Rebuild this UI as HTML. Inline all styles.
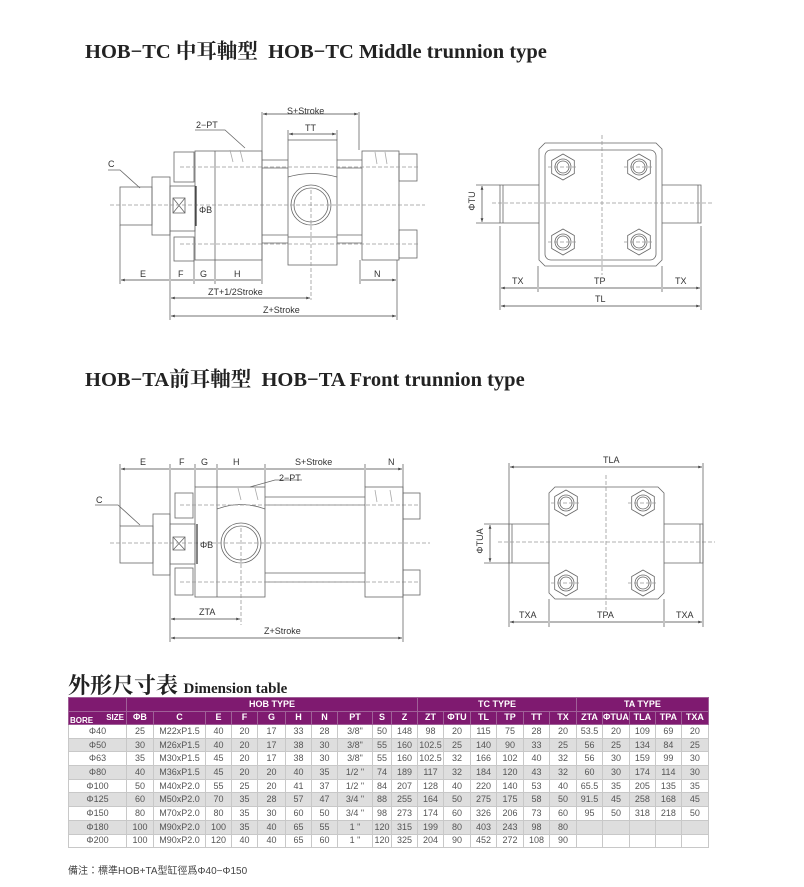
<!DOCTYPE html>
<html><head><meta charset="utf-8"><style>
body{margin:0;background:#fff;width:804px;height:887px;position:relative;overflow:hidden;font-family:"Liberation Sans",sans-serif}
.h{position:absolute;font-family:"Liberation Serif","Noto Serif CJK SC",serif;font-weight:bold;color:#222;white-space:nowrap}
table{position:absolute;left:68px;top:697px;border-collapse:collapse;table-layout:fixed;font-size:9px;color:#555}
td{text-align:center;padding:0;height:12.7px;border:1px solid #c8c8c8;line-height:11px;white-space:nowrap;overflow:hidden}
tr.g td{background:#dedede}
tr.p td{background:#7f1a70;color:#fff;font-weight:bold;border-color:#a06098;height:12.5px}
svg text{font-family:"Liberation Sans",sans-serif;font-size:9px;fill:#333}
</style></head><body>
<div class="h" style="left:85px;top:34px;font-size:20.5px">HOB−TC 中耳軸型 &nbsp;HOB−TC Middle trunnion type</div>
<div class="h" style="left:85px;top:362px;font-size:20.5px">HOB−TA前耳軸型 &nbsp;HOB−TA Front trunnion type</div>
<div class="h" style="left:68px;top:669px;font-size:22px">外形尺寸表 <span style="font-size:15px">Dimension table</span></div>
<div style="position:absolute;left:68px;top:862px;font-size:10px;color:#444;font-family:'Liberation Sans','Noto Sans CJK TC',sans-serif">備注：標準HOB+TA型缸徑爲Φ40−Φ150</div>
<svg width="804" height="887" style="position:absolute;left:0;top:0">
<defs><marker id="a" viewBox="0 0 8 6" refX="8" refY="3" markerWidth="6" markerHeight="4" orient="auto-start-reverse"><path d="M0 0L8 3L0 6z" fill="#444"/></marker></defs>
<g stroke="#666" stroke-width="0.8" fill="none">
<!-- TC side -->
<rect x="120" y="187" width="32" height="38"/>
<rect x="152" y="177" width="18" height="58"/>
<rect x="170" y="186" width="25" height="45"/>
<rect x="173" y="198" width="12" height="15"/><path d="M173 198L185 213M185 198L173 213"/>
<rect x="174" y="152" width="20" height="30"/><rect x="174" y="237" width="20" height="24"/>
<rect x="195" y="151" width="67" height="109"/><path d="M215 151V260"/>
<path d="M262 160H288M262 168H288M262 235H288M262 243H288M337 160H362M337 168H362M337 235H362M337 243H362"/>
<rect x="288" y="140" width="49" height="125"/><path d="M288 237H337M288 177Q312 170 337 177"/>
<circle cx="311" cy="205" r="20"/><circle cx="311" cy="205" r="17"/>
<rect x="362" y="151" width="37" height="109"/>
<rect x="399" y="154" width="18" height="27"/><rect x="399" y="230" width="18" height="28"/>
<path d="M230 150l3 12M240 150l3 12M375 152l2 12M385 152l2 12" stroke="#aaa"/>
<path d="M110 205H425M180 167H420M180 244H420M311 190V300" stroke="#999" stroke-dasharray="4 2"/>
<path d="M196 186V226" stroke="#333" stroke-width="1.2"/>
<path d="M120 225V284M170 231V320M194 260V284M215 260V284M262 112V284M359 112V150M360 260V284M397 260V320M288 130V140M337 130V140"/>
<path d="M140 188L120 170H108M245 148L225 130H195"/>
</g>
<g stroke="#444" stroke-width="0.7" marker-start="url(#a)" marker-end="url(#a)">
<path d="M263 114H358"/><path d="M289 134H336"/>
<path d="M121 280H169M171 280H193M195 280H214M216 280H261M361 280H396"/>
<path d="M171 298H310"/><path d="M171 316H396"/>
</g>
<text x="287" y="114">S+Stroke</text><text x="305" y="131">TT</text><text x="196" y="128">2−PT</text><text x="108" y="167">C</text>
<text x="199" y="213">ΦB</text>
<text x="140" y="277">E</text><text x="178" y="277">F</text><text x="200" y="277">G</text><text x="234" y="277">H</text><text x="374" y="277">N</text>
<text x="208" y="295">ZT+1/2Stroke</text><text x="263" y="313">Z+Stroke</text>
<!-- TC end -->
<g stroke="#666" stroke-width="0.8" fill="none">
<path d="M545 143H656L662 149V260L656 266H545L539 260V149z"/>
<rect x="545" y="150" width="111" height="110" rx="6"/>
<path d="M539 185H500V223H539M662 185H701V223H662M503 185V223M698 185V223"/>
<g id="n"><path d="M563 154l11.3 6.5v13l-11.3 6.5l-11.3-6.5v-13z"/><circle cx="563" cy="167" r="8"/><circle cx="563" cy="167" r="6"/></g>
<use href="#n" x="76"/><use href="#n" y="75"/><use href="#n" x="76" y="75"/>
<path d="M492 203H712M602 135V275M548 167H578M624 167H654M548 242H578M624 242H654" stroke="#999" stroke-dasharray="4 2"/>
<path d="M476 185H500M476 223H500M500 226V310M538 266V292M662 266V292M701 226V310"/>
</g>
<g stroke="#444" stroke-width="0.7" marker-start="url(#a)" marker-end="url(#a)">
<path d="M482 186V222"/><path d="M501 288H537M539 288H661M663 288H700"/><path d="M501 306H700"/>
</g>
<text x="478" y="204" text-anchor="middle" transform="rotate(-90 475 204)">ΦTU</text>
<text x="512" y="284">TX</text><text x="594" y="284">TP</text><text x="675" y="284">TX</text><text x="595" y="302">TL</text>
<!-- TA side -->
<g stroke="#666" stroke-width="0.8" fill="none">
<rect x="120" y="526" width="33" height="37"/>
<rect x="153" y="514" width="17" height="61"/>
<rect x="170" y="524" width="25" height="40"/>
<rect x="173" y="537" width="12" height="13"/><path d="M173 537L185 550M185 537L173 550"/>
<rect x="175" y="493" width="18" height="25"/><rect x="175" y="568" width="18" height="27"/>
<rect x="195" y="487" width="70" height="110"/><path d="M217 487V597M217 509Q241 500 265 509"/>
<circle cx="241" cy="543" r="20"/><circle cx="241" cy="543" r="17"/>
<path d="M265 497H365M265 505H365M265 573H365M265 582H365"/>
<rect x="365" y="487" width="38" height="110"/>
<rect x="403" y="493" width="17" height="26"/><rect x="403" y="570" width="17" height="25"/>
<path d="M238 488l3 12M255 488l3 12M375 490l2 12M390 490l2 12" stroke="#aaa"/>
<path d="M110 543H430M180 505H420M180 582H420M241 528V625" stroke="#999" stroke-dasharray="4 2"/>
<path d="M197 524V564" stroke="#333" stroke-width="1.2"/>
<path d="M120 464V526M170 464V642M195 464V487M217 464V487M265 464V487M365 464V487M403 464V642"/>
<path d="M140 525L118 505H95M250 487L275 480H302"/>
</g>
<g stroke="#444" stroke-width="0.7" marker-start="url(#a)" marker-end="url(#a)">
<path d="M121 469H169M171 469H194M196 469H216M218 469H264M266 469H364M366 469H402"/>
<path d="M171 619H240"/><path d="M171 638H402"/>
</g>
<text x="140" y="465">E</text><text x="179" y="465">F</text><text x="201" y="465">G</text><text x="233" y="465">H</text><text x="295" y="465">S+Stroke</text><text x="388" y="465">N</text>
<text x="279" y="481">2−PT</text><text x="96" y="503">C</text><text x="200" y="548">ΦB</text>
<text x="199" y="615">ZTA</text><text x="264" y="634">Z+Stroke</text>
<!-- TA end -->
<g stroke="#666" stroke-width="0.8" fill="none">
<path d="M555 487H658L664 493V593L658 599H555L549 593V493z"/>
<path d="M549 524H509V563H549M664 524H703V563H664M512 524V563M700 524V563"/>
<g id="m"><path d="M566 490l11.3 6.5v13l-11.3 6.5l-11.3-6.5v-13z"/><circle cx="566" cy="503" r="8"/><circle cx="566" cy="503" r="6"/></g>
<use href="#m" x="77"/><use href="#m" y="80"/><use href="#m" x="77" y="80"/>
<path d="M498 542H715M606 475V610M551 503H581M628 503H658M551 583H581M628 583H658" stroke="#999" stroke-dasharray="4 2"/>
<path d="M484 524H509M484 563H509M509 463V627M549 599V627M664 599V627M703 463V627"/>
</g>
<g stroke="#444" stroke-width="0.7" marker-start="url(#a)" marker-end="url(#a)">
<path d="M510 467H702"/><path d="M490 525V562"/><path d="M510 622H548M550 622H663M665 622H702"/>
</g>
<text x="603" y="463">TLA</text><text x="519" y="618">TXA</text><text x="597" y="618">TPA</text><text x="676" y="618">TXA</text>
<text x="486" y="544" text-anchor="middle" transform="rotate(-90 483 544)">ΦTUA</text>
</svg>
<table>
<colgroup><col style="width:58px"><col style="width:27px"><col style="width:52px"><col style="width:26px"><col style="width:26px"><col style="width:28px"><col style="width:26px"><col style="width:26px"><col style="width:35px"><col style="width:19px"><col style="width:26px"><col style="width:26px"><col style="width:27px"><col style="width:26px"><col style="width:27px"><col style="width:26px"><col style="width:27px"><col style="width:26px"><col style="width:26px"><col style="width:26px"><col style="width:26px"><col style="width:27px"></colgroup>
<tr class="p"><td></td><td colspan="10">HOB TYPE</td><td colspan="6">TC TYPE</td><td colspan="5">TA TYPE</td></tr>
<tr class="p"><td style="position:relative;font-size:8px"><span style="position:absolute;right:2px;top:0">SIZE</span><span style="position:absolute;left:1px;bottom:-2px">BORE</span></td><td>ΦB</td><td>C</td><td>E</td><td>F</td><td>G</td><td>H</td><td>N</td><td>PT</td><td>S</td><td>Z</td><td>ZT</td><td>ΦTU</td><td>TL</td><td>TP</td><td>TT</td><td>TX</td><td>ZTA</td><td>ΦTUA</td><td>TLA</td><td>TPA</td><td>TXA</td></tr>
<tr><td>Φ40</td><td>25</td><td>M22xP1.5</td><td>40</td><td>20</td><td>17</td><td>33</td><td>28</td><td>3/8"</td><td>50</td><td>148</td><td>98</td><td>20</td><td>115</td><td>75</td><td>28</td><td>20</td><td>53.5</td><td>20</td><td>109</td><td>69</td><td>20</td></tr>
<tr class="g"><td>Φ50</td><td>30</td><td>M26xP1.5</td><td>40</td><td>20</td><td>17</td><td>38</td><td>30</td><td>3/8"</td><td>55</td><td>160</td><td>102.5</td><td>25</td><td>140</td><td>90</td><td>33</td><td>25</td><td>56</td><td>25</td><td>134</td><td>84</td><td>25</td></tr>
<tr><td>Φ63</td><td>35</td><td>M30xP1.5</td><td>45</td><td>20</td><td>17</td><td>38</td><td>30</td><td>3/8"</td><td>55</td><td>160</td><td>102.5</td><td>32</td><td>166</td><td>102</td><td>40</td><td>32</td><td>56</td><td>30</td><td>159</td><td>99</td><td>30</td></tr>
<tr class="g"><td>Φ80</td><td>40</td><td>M36xP1.5</td><td>45</td><td>20</td><td>20</td><td>40</td><td>35</td><td>1/2 "</td><td>74</td><td>189</td><td>117</td><td>32</td><td>184</td><td>120</td><td>43</td><td>32</td><td>60</td><td>30</td><td>174</td><td>114</td><td>30</td></tr>
<tr><td>Φ100</td><td>50</td><td>M40xP2.0</td><td>55</td><td>25</td><td>20</td><td>41</td><td>37</td><td>1/2 "</td><td>84</td><td>207</td><td>128</td><td>40</td><td>220</td><td>140</td><td>53</td><td>40</td><td>65.5</td><td>35</td><td>205</td><td>135</td><td>35</td></tr>
<tr class="g"><td>Φ125</td><td>60</td><td>M50xP2.0</td><td>70</td><td>35</td><td>28</td><td>57</td><td>47</td><td>3/4 "</td><td>88</td><td>255</td><td>164</td><td>50</td><td>275</td><td>175</td><td>58</td><td>50</td><td>91.5</td><td>45</td><td>258</td><td>168</td><td>45</td></tr>
<tr><td>Φ150</td><td>80</td><td>M70xP2.0</td><td>80</td><td>35</td><td>30</td><td>60</td><td>50</td><td>3/4 "</td><td>98</td><td>273</td><td>174</td><td>60</td><td>326</td><td>206</td><td>73</td><td>60</td><td>95</td><td>50</td><td>318</td><td>218</td><td>50</td></tr>
<tr class="g"><td>Φ180</td><td>100</td><td>M90xP2.0</td><td>100</td><td>35</td><td>40</td><td>65</td><td>55</td><td>1 "</td><td>120</td><td>315</td><td>199</td><td>80</td><td>403</td><td>243</td><td>98</td><td>80</td><td></td><td></td><td></td><td></td><td></td></tr>
<tr><td>Φ200</td><td>100</td><td>M90xP2.0</td><td>120</td><td>40</td><td>40</td><td>65</td><td>60</td><td>1 "</td><td>120</td><td>325</td><td>204</td><td>90</td><td>452</td><td>272</td><td>108</td><td>90</td><td></td><td></td><td></td><td></td><td></td></tr>
</table>
</body></html>
